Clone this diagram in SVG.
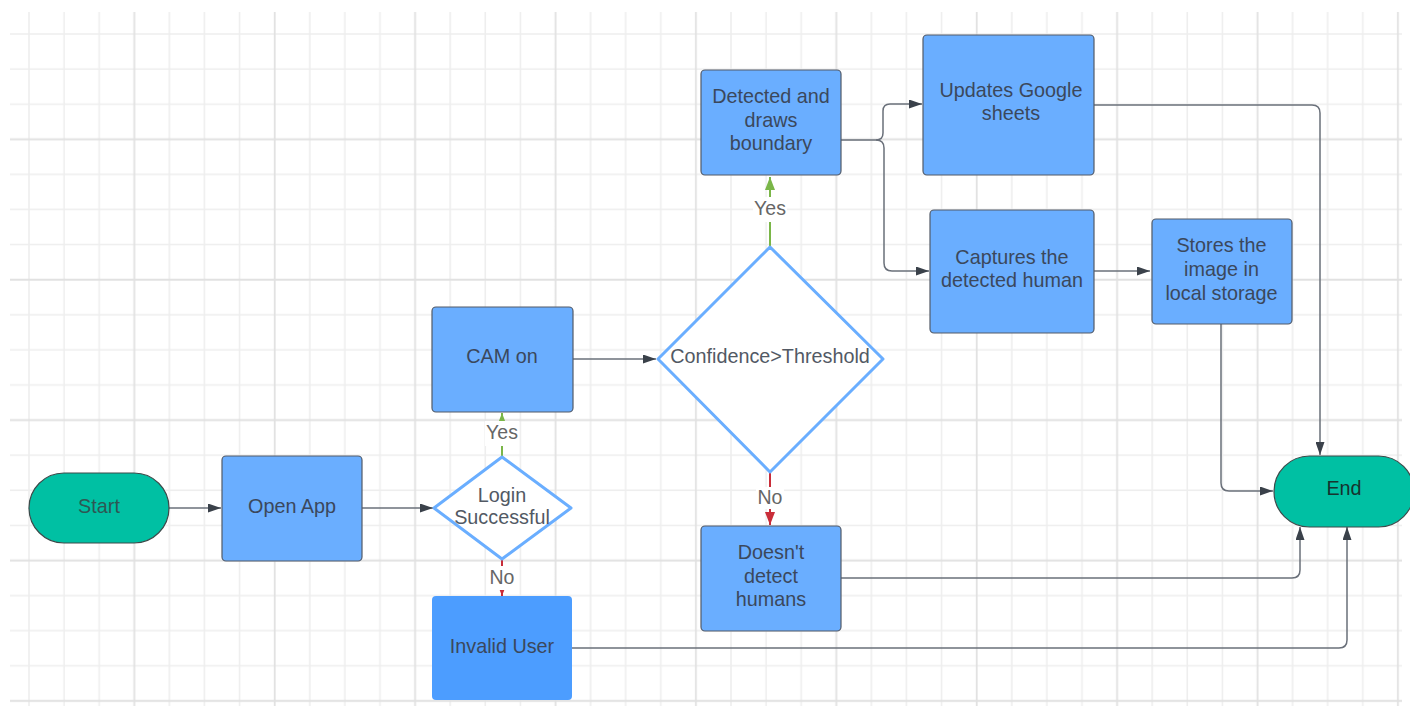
<svg xmlns="http://www.w3.org/2000/svg" width="1410" height="708" viewBox="0 0 1410 708">
<style>
.box{fill:#6aaeff;stroke:#525a68;stroke-width:1.2}
.term{fill:#00c0a3;stroke:#3c4a4a;stroke-width:1.2}
.dia{fill:#ffffff;stroke:#6aaeff;stroke-width:3;stroke-linejoin:round}
.t{font-family:"Liberation Sans",Arial,sans-serif;font-size:19.8px;fill:#3b485c;text-anchor:middle}
.dt{fill:#525964}
.lb{font-family:"Liberation Sans",Arial,sans-serif;font-size:19.5px;fill:#666666;text-anchor:middle}
.c{fill:none;stroke:#6a707a;stroke-width:1.5}
.g{fill:none;stroke:#7ab648;stroke-width:2}
.r{fill:none;stroke:#c92d39;stroke-width:2}
</style>
<defs>
<pattern id="grid" x="28" y="33" width="140.4" height="140.4" patternUnits="userSpaceOnUse">
<path d="M1,0V140.4M36.1,0V140.4M71.2,0V140.4M0,1H140.4M0,36.1H140.4M0,71.2H140.4" stroke="#eeeeee" stroke-width="1.6" fill="none"/>
<path d="M106.3,0V140.4M0,106.3H140.4" stroke="#e1e1e1" stroke-width="1.8" fill="none"/>
</pattern>
<marker id="a" viewBox="0 0 13 9" refX="13" refY="4.5" markerWidth="13" markerHeight="9" markerUnits="userSpaceOnUse" orient="auto">
<path d="M0,0L13,4.5L0,9Z" fill="#3a414a"/>
</marker>
<marker id="ag" viewBox="0 0 13 10" refX="13" refY="5" markerWidth="13" markerHeight="10" markerUnits="userSpaceOnUse" orient="auto">
<path d="M0,0L13,5L0,10Z" fill="#7ab648"/>
</marker>
<marker id="ar" viewBox="0 0 13 10" refX="13" refY="5" markerWidth="13" markerHeight="10" markerUnits="userSpaceOnUse" orient="auto">
<path d="M0,0L13,5L0,10Z" fill="#c92d39"/>
</marker>
</defs>
<rect width="1410" height="708" fill="#ffffff"/>
<rect x="10" y="12" width="1392" height="694" fill="url(#grid)"/>

<g id="connectors">
<path class="c" d="M169,508H221" marker-end="url(#a)"/>
<path class="c" d="M362,508H433" marker-end="url(#a)"/>
<path class="c" d="M573,359H656" marker-end="url(#a)"/>
<path class="g" d="M502,457V413" marker-end="url(#ag)"/>
<path class="r" d="M502,559V596" marker-end="url(#ar)"/>
<path class="g" d="M770,247V177" marker-end="url(#ag)"/>
<path class="r" d="M770,472V525" marker-end="url(#ar)"/>
<path class="c" d="M841,140H876Q883,140 883,133V111Q883,104 890,104H922" marker-end="url(#a)"/>
<path class="c" d="M876,140Q884,140 884,148V263Q884,271 892,271H929" marker-end="url(#a)"/>
<path class="c" d="M1094,271H1150" marker-end="url(#a)"/>
<path class="c" d="M1094,105H1312Q1320,105 1320,113V455" marker-end="url(#a)"/>
<path class="c" d="M1221,324V483Q1221,491 1229,491H1273" marker-end="url(#a)"/>
<path class="c" d="M841,578H1292Q1300,578 1300,570V527" marker-end="url(#a)"/>
<path class="c" d="M572,648H1339Q1347,648 1347,640V527" marker-end="url(#a)"/>
<g id="labels">
<rect x="485" y="421" width="34" height="25" fill="#ffffff"/>
<text class="lb" x="502" y="439">Yes</text>
<rect x="488" y="566" width="28" height="24" fill="#ffffff"/>
<text class="lb" x="502" y="584">No</text>
<rect x="753" y="197" width="34" height="25" fill="#ffffff"/>
<text class="lb" x="770" y="215">Yes</text>
<rect x="756" y="487" width="28" height="22" fill="#ffffff"/>
<text class="lb" x="770" y="504">No</text>
</g>
</g>

<g id="start">
<rect class="term" x="29" y="473" width="140" height="70" rx="35"/>
<text class="t" x="99" y="513" style="fill:#2e5753">Start</text>
</g>
<g id="open-app">
<rect class="box" x="222" y="456" width="140" height="105" rx="4"/>
<text class="t" x="292" y="513">Open App</text>
</g>
<g id="login">
<path class="dia" d="M502,457L571,508L502,559L434,508Z"/>
<text class="t dt" x="502" y="502">Login</text>
<text class="t dt" x="502" y="523.5">Successful</text>
</g>
<g id="cam-on">
<rect class="box" x="432" y="307" width="141" height="105" rx="4"/>
<text class="t" x="502" y="363">CAM on</text>
</g>
<g id="invalid-user">
<rect x="432" y="596" width="140" height="104" rx="4" fill="#4c9dff"/>
<text class="t" x="502" y="653">Invalid User</text>
</g>
<g id="confidence">
<path class="dia" d="M770,247L883,359L770,472L658,359Z"/>
<text class="t dt" x="770" y="363">Confidence&gt;Threshold</text>
</g>
<g id="detected">
<rect class="box" x="701" y="70" width="140" height="105" rx="4"/>
<text class="t" x="771" y="103">Detected and</text>
<text class="t" x="771" y="126.5">draws</text>
<text class="t" x="771" y="150">boundary</text>
</g>
<g id="doesnt-detect">
<rect class="box" x="701" y="526" width="140" height="105" rx="4"/>
<text class="t" x="771" y="559">Doesn't</text>
<text class="t" x="771" y="582.5">detect</text>
<text class="t" x="771" y="606">humans</text>
</g>
<g id="updates-sheets">
<rect class="box" x="923" y="35" width="171" height="140" rx="4"/>
<text class="t" x="1011" y="97">Updates Google</text>
<text class="t" x="1011" y="120">sheets</text>
</g>
<g id="captures">
<rect class="box" x="930" y="210" width="164" height="123" rx="4"/>
<text class="t" x="1012" y="264">Captures the</text>
<text class="t" x="1012" y="287">detected human</text>
</g>
<g id="stores">
<rect class="box" x="1152" y="219" width="140" height="105" rx="4"/>
<text class="t" x="1221.5" y="252">Stores the</text>
<text class="t" x="1221.5" y="276">image in</text>
<text class="t" x="1221.5" y="299.5">local storage</text>
</g>
<g id="end">
<rect class="term" x="1274" y="456" width="140" height="71" rx="35.5"/>
<text class="t" x="1344" y="495" style="fill:#17332f">End</text>
</g>
</svg>
